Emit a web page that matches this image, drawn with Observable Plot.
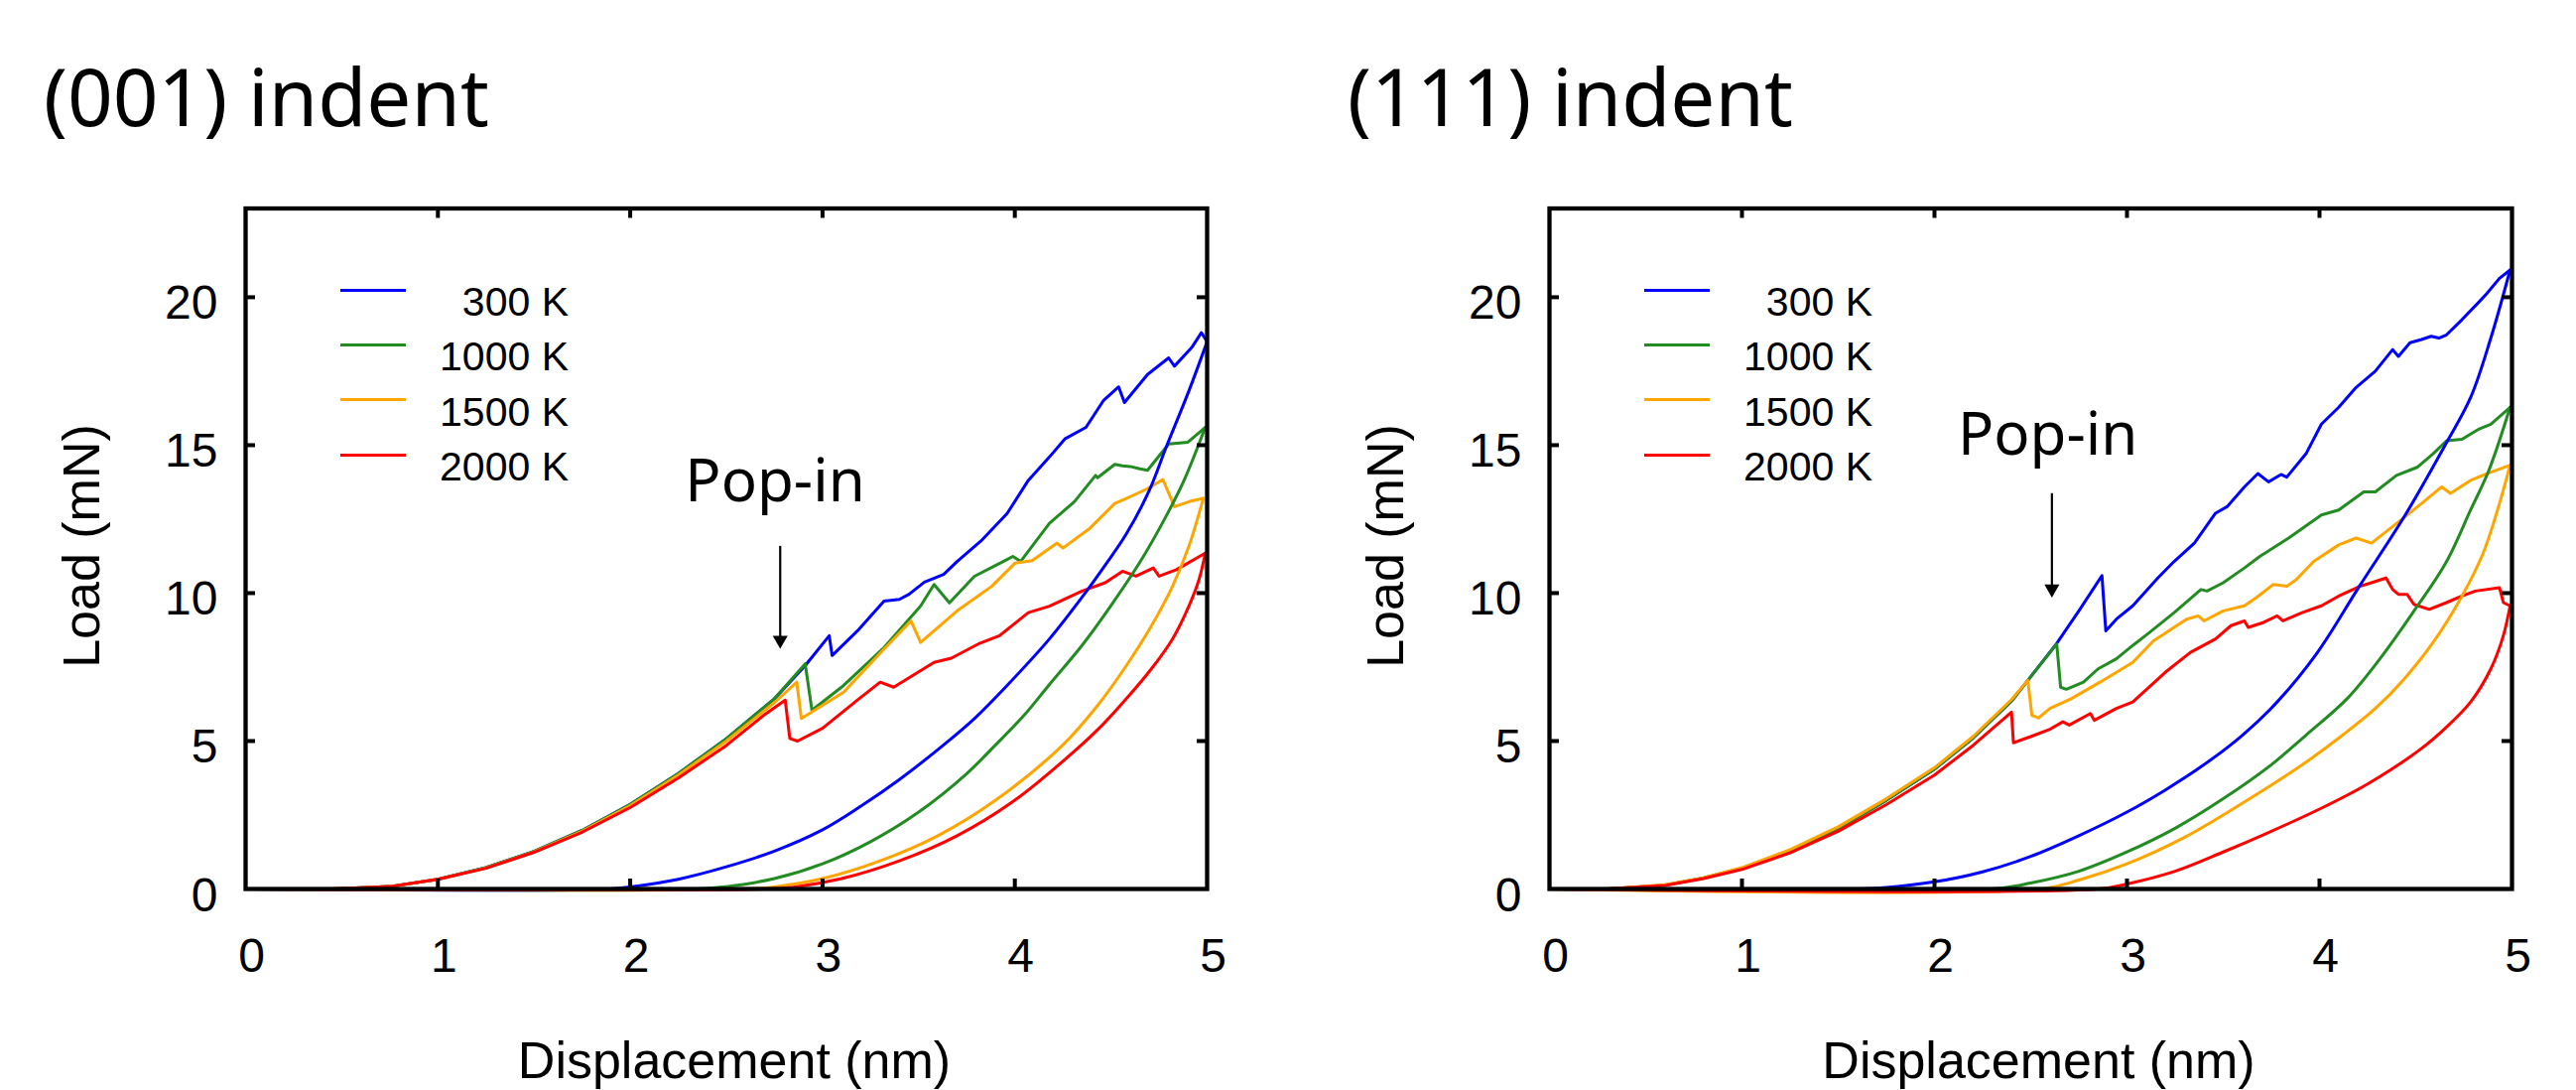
<!DOCTYPE html>
<html>
<head>
<meta charset="utf-8">
<script src="https://cdn.jsdelivr.net/npm/d3@7"></script>
<script src="https://cdn.jsdelivr.net/npm/@observablehq/plot@0.6"></script>
<style>
  html, body { margin: 0; padding: 0; background: #fff; }
  #page { position: relative; width: 2596px; height: 1098px; overflow: hidden; background: #fff; }
  .title { position: absolute; top: 56px; font-family: "Noto Sans", sans-serif; font-size: 80px; line-height: 80px; color: #000; white-space: nowrap; }
  .panel { position: absolute; top: 160px; }
  .lg-line { position: absolute; height: 3px; width: 66px; }
  .lg-text { position: absolute; width: 200px; text-align: right; font-family: "Liberation Sans", Arial, sans-serif; font-size: 41px; line-height: 41px; color: #000; white-space: pre; }
  .ylabel { position: absolute; font-family: "Liberation Sans", Arial, sans-serif; font-size: 52px; line-height: 52px; color: #000; white-space: nowrap; transform: translate(-50%, -50%) rotate(-90deg); }
</style>
</head>
<body>
<div id="page"></div>
<script>
// ---------- labels / categories ----------
const temps = ["300 K", "1000 K", "1500 K", "2000 K"];
const legendLabels = [" 300 K", "1000 K", "1500 K", "2000 K"];
const colors = ["#0000ff", "#228b22", "#ffa500", "#ff0000"];
const panelTitles = ["(001) indent", "(111) indent"];
const xLabel = "Displacement (nm)";
const yLabel = "Load (mN)";
const popinText = "Pop-in";
const xTickValues = [0, 1, 2, 3, 4, 5];
const yTickValues = [0, 5, 10, 15, 20];
const xInnerTicks = [1, 2, 3, 4];
const yInnerTicks = [5, 10, 15, 20];

// ---------- (001) indent : [displacement nm, load mN] ----------
const load001_300 = [[0,0],[0.45,0],[0.75,0.08],[1.0,0.33],[1.25,0.72],[1.5,1.27],[1.75,1.98],[2.0,2.86],[2.25,3.9],[2.5,5.08],[2.75,6.43],[2.91,7.55],[3.035,8.56],[3.05,7.89],[3.19,8.78],[3.32,9.73],[3.40,9.79],[3.45,9.96],[3.53,10.37],[3.63,10.63],[3.70,11.07],[3.83,11.80],[3.96,12.69],[4.07,13.81],[4.18,14.60],[4.26,15.21],[4.37,15.60],[4.46,16.50],[4.54,16.97],[4.57,16.44],[4.69,17.39],[4.80,17.95],[4.83,17.67],[4.92,18.3],[4.97,18.8],[5.0,18.5]];
const unload001_300 = [[5.0,18.5],[4.905,16.83],[4.787,14.93],[4.70,13.48],[4.58,12.0],[4.476,11.0],[4.36,9.95],[4.18,8.45],[3.96,6.88],[3.79,5.76],[3.63,4.87],[3.4,3.7],[3.2,2.8],[3.0,2.0],[2.75,1.28],[2.5,0.75],[2.25,0.33],[2.0,0.07],[1.9,0],[0,0]];
const load001_1000 = [[0,0],[0.45,0],[0.75,0.08],[1.0,0.33],[1.25,0.72],[1.5,1.27],[1.75,1.98],[2.0,2.86],[2.25,3.9],[2.5,5.08],[2.75,6.43],[2.91,7.61],[2.945,6.04],[3.11,6.88],[3.32,8.16],[3.51,9.56],[3.58,10.29],[3.66,9.67],[3.79,10.57],[3.94,11.07],[3.99,11.24],[4.03,11.07],[4.18,12.36],[4.31,13.09],[4.42,13.98],[4.43,13.9],[4.52,14.35],[4.56,14.3],[4.6,14.28],[4.65,14.2],[4.69,14.15],[4.80,15.04],[4.90,15.10],[4.99,15.6]];
const unload001_1000 = [[4.99,15.6],[4.88,13.81],[4.776,12.47],[4.648,11.02],[4.498,9.56],[4.348,8.22],[4.176,6.88],[4.048,5.87],[3.90,4.87],[3.75,3.9],[3.5,2.6],[3.25,1.6],[3.0,0.85],[2.75,0.35],[2.5,0.08],[2.35,0],[0,0]];
const load001_1500 = [[0,0],[0.45,0],[0.75,0.08],[1.0,0.33],[1.25,0.71],[1.5,1.25],[1.75,1.95],[2.0,2.82],[2.25,3.85],[2.5,5.0],[2.75,6.3],[2.866,6.99],[2.89,5.76],[3.11,6.65],[3.32,8.11],[3.46,9.06],[3.51,8.33],[3.70,9.40],[3.88,10.23],[4.00,11.01],[4.09,11.1],[4.22,11.69],[4.25,11.52],[4.39,12.19],[4.52,13.03],[4.58,13.2],[4.69,13.53],[4.77,13.84],[4.83,12.92],[4.91,13.1],[4.98,13.2]];
const unload001_1500 = [[4.98,13.2],[4.905,11.58],[4.82,10.23],[4.71,8.89],[4.58,7.55],[4.43,6.2],[4.25,4.87],[3.9,3.0],[3.6,1.8],[3.3,0.95],[3.0,0.35],[2.75,0.07],[2.6,0],[0,0]];
const load001_2000 = [[0,0],[0.45,0],[0.75,0.08],[1.0,0.33],[1.25,0.7],[1.5,1.24],[1.75,1.92],[2.0,2.75],[2.25,3.75],[2.5,4.85],[2.7,5.9],[2.806,6.38],[2.83,5.09],[2.87,5.0],[3.0,5.43],[3.19,6.43],[3.30,6.99],[3.37,6.82],[3.58,7.66],[3.67,7.8],[3.81,8.28],[3.92,8.56],[4.07,9.34],[4.18,9.56],[4.35,10.07],[4.47,10.35],[4.56,10.74],[4.63,10.57],[4.72,10.85],[4.75,10.57],[4.84,10.79],[4.99,11.35]];
const unload001_2000 = [[4.99,11.35],[4.958,10.46],[4.905,9.56],[4.82,8.45],[4.71,7.44],[4.58,6.43],[4.455,5.54],[4.3,4.6],[4.0,3.0],[3.7,1.8],[3.4,0.95],[3.1,0.35],[2.85,0.06],[2.7,0],[0,0]];

// ---------- (111) indent ----------
const load111_300 = [[0,0],[0.3,0],[0.6,0.13],[0.8,0.37],[1.0,0.7],[1.25,1.3],[1.5,2.05],[1.75,3.0],[2.0,4.05],[2.2,5.1],[2.4,6.35],[2.485,7.05],[2.635,8.3],[2.75,9.4],[2.87,10.59],[2.89,8.72],[2.945,9.12],[3.03,9.57],[3.16,10.51],[3.245,11.07],[3.35,11.69],[3.46,12.70],[3.52,12.92],[3.61,13.59],[3.68,14.04],[3.735,13.76],[3.80,14.01],[3.83,13.92],[3.93,14.71],[4.01,15.71],[4.10,16.28],[4.19,16.95],[4.29,17.5],[4.38,18.23],[4.41,18.0],[4.47,18.46],[4.53,18.57],[4.58,18.68],[4.62,18.62],[4.66,18.73],[4.74,19.24],[4.83,19.85],[4.87,20.13],[4.935,20.64],[4.99,20.92]];
const unload111_300 = [[4.99,20.92],[4.89,18.62],[4.785,16.61],[4.656,15.04],[4.44,12.58],[4.207,10.23],[3.99,8.0],[3.78,6.32],[3.6,5.2],[3.4,4.2],[3.2,3.35],[3.0,2.6],[2.75,1.8],[2.5,1.1],[2.25,0.58],[2.0,0.24],[1.75,0.05],[1.6,0],[0,0]];
const load111_1000 = [[0,0],[0.3,0],[0.6,0.13],[0.8,0.37],[1.0,0.7],[1.25,1.3],[1.5,2.05],[1.75,3.0],[2.0,4.05],[2.2,5.1],[2.4,6.35],[2.485,7.05],[2.635,8.28],[2.655,6.82],[2.685,6.75],[2.774,6.99],[2.85,7.44],[2.945,7.78],[3.03,8.23],[3.117,8.67],[3.245,9.34],[3.384,10.12],[3.416,10.07],[3.50,10.35],[3.61,10.85],[3.69,11.24],[3.84,11.86],[4.01,12.64],[4.10,12.81],[4.23,13.42],[4.29,13.42],[4.40,13.98],[4.51,14.26],[4.59,14.71],[4.66,15.15],[4.74,15.2],[4.83,15.55],[4.89,15.71],[4.99,16.28]];
const unload111_1000 = [[4.99,16.28],[4.88,14.15],[4.785,12.81],[4.656,11.02],[4.485,9.34],[4.314,7.78],[4.143,6.43],[3.93,5.2],[3.75,4.2],[3.5,3.05],[3.25,2.05],[3.0,1.25],[2.75,0.6],[2.5,0.2],[2.3,0],[0,0]];
const load111_1500 = [[0,0],[0.3,0],[0.6,0.14],[0.8,0.38],[1.0,0.72],[1.25,1.33],[1.5,2.1],[1.75,3.05],[2.0,4.1],[2.2,5.15],[2.4,6.4],[2.485,7.05],[2.506,5.87],[2.54,5.78],[2.60,6.1],[2.71,6.43],[2.86,6.99],[3.03,7.66],[3.138,8.39],[3.31,9.12],[3.37,9.23],[3.40,9.06],[3.50,9.40],[3.61,9.57],[3.67,9.84],[3.76,10.29],[3.83,10.23],[3.88,10.46],[3.97,11.07],[4.10,11.63],[4.19,11.86],[4.27,11.69],[4.38,12.25],[4.51,12.92],[4.635,13.59],[4.68,13.37],[4.785,13.81],[4.87,14.04],[4.99,14.32]];
const unload111_1500 = [[4.99,14.32],[4.935,13.03],[4.85,11.35],[4.74,9.9],[4.59,8.33],[4.44,7.1],[4.29,6.1],[4.12,5.2],[3.9,4.15],[3.6,2.9],[3.3,1.75],[3.0,0.85],[2.75,0.3],[2.55,0],[0,0]];
const load111_2000 = [[0,0],[0.3,0],[0.6,0.12],[0.8,0.35],[1.0,0.66],[1.25,1.22],[1.5,1.95],[1.75,2.85],[2.0,3.85],[2.2,4.85],[2.40,5.98],[2.41,4.94],[2.5,5.15],[2.6,5.4],[2.667,5.65],[2.70,5.54],[2.81,5.93],[2.83,5.7],[2.945,6.1],[3.03,6.32],[3.20,7.33],[3.33,8.0],[3.46,8.45],[3.54,8.90],[3.61,9.06],[3.63,8.84],[3.71,9.01],[3.78,9.23],[3.81,9.06],[3.91,9.34],[4.01,9.57],[4.10,9.90],[4.21,10.23],[4.27,10.35],[4.346,10.51],[4.38,10.12],[4.41,9.96],[4.455,9.96],[4.49,9.62],[4.57,9.45],[4.66,9.68],[4.74,9.9],[4.81,10.07],[4.935,10.18],[4.955,9.68],[4.99,9.57]];
const unload111_2000 = [[4.99,9.57],[4.955,8.56],[4.89,7.44],[4.785,6.32],[4.656,5.45],[4.52,4.7],[4.25,3.55],[4.0,2.7],[3.75,1.95],[3.5,1.25],[3.25,0.6],[3.0,0.17],[2.85,0],[0,0]];

// ---------- annotation anchors (data units) ----------
const popinX = [2.753, 2.588];
const popinY = [13.09, 14.67];
const arrowX = [2.78, 2.61];
const arrowTop = [11.58, 13.36];
const arrowTip = [8.12, 9.85];

const loads = [[load001_300, load001_1000, load001_1500, load001_2000], [load111_300, load111_1000, load111_1500, load111_2000]];
const unloads = [[unload001_300, unload001_1000, unload001_1500, unload001_2000], [unload111_300, unload111_1000, unload111_1500, unload111_2000]];

function rows(seriesList) {
  const out = [];
  seriesList.forEach((s, i) => s.forEach(([d, L]) => out.push({temp: temps[i], d, L})));
  return out;
}

const page = document.getElementById("page");
const W = 1298, H = 938, MT = 49.5, MB = 203;
const layouts = [
  {left: 0, ml: 247, mr: 82, titleLeft: 44, ylabX: 82},
  {left: 1298, ml: 263, mr: 65, titleLeft: 1358, ylabX: 1396}
];

layouts.forEach((lay, p) => {
  const frameW = W - lay.ml - lay.mr;
  const frameH = H - MT - MB;
  const svg = Plot.plot({
    width: W, height: H,
    marginLeft: lay.ml, marginRight: lay.mr, marginTop: MT, marginBottom: MB,
    x: {domain: [0, 5], axis: null},
    y: {domain: [0, 23], axis: null},
    color: {domain: temps, range: colors},
    style: {background: "transparent", overflow: "visible"},
    marks: [
      Plot.line(rows(loads[p]), {x: "d", y: "L", z: "temp", stroke: "temp", strokeWidth: 3, strokeLinejoin: "round"}),
      Plot.line(rows(unloads[p]), {x: "d", y: "L", z: "temp", stroke: "temp", strokeWidth: 3, curve: "catmull-rom"}),
      Plot.frame({stroke: "black", strokeWidth: 4.3}),
      Plot.tickX(xInnerTicks, {x: d => d, stroke: "black", strokeWidth: 4, insetTop: frameH - 10}),
      Plot.tickX(xInnerTicks, {x: d => d, stroke: "black", strokeWidth: 4, insetBottom: frameH - 10}),
      Plot.tickY(yInnerTicks, {y: d => d, stroke: "black", strokeWidth: 4, insetRight: frameW - 10}),
      Plot.tickY(yInnerTicks, {y: d => d, stroke: "black", strokeWidth: 4, insetLeft: frameW - 10}),
      Plot.text(xTickValues, {x: d => d, text: d => String(d), frameAnchor: "bottom", lineAnchor: "bottom", dy: 83, dx: 6, fontSize: 48, fontFamily: "Liberation Sans, Arial, sans-serif", fill: "black"}),
      Plot.text(yTickValues, {y: d => d, text: d => String(d), frameAnchor: "left", textAnchor: "end", lineAnchor: "bottom", dx: -28, dy: 22, fontSize: 48, fontFamily: "Liberation Sans, Arial, sans-serif", fill: "black"}),
      Plot.text([xLabel], {text: d => d, frameAnchor: "bottom", lineAnchor: "bottom", dy: 190, dx: 8, fontSize: 52, fontFamily: "Liberation Sans, Arial, sans-serif", fill: "black"}),
      Plot.text([popinText], {x: () => popinX[p], y: () => popinY[p], text: d => d, lineAnchor: "bottom", fontSize: 60, fontFamily: "Noto Sans, sans-serif", fill: "black"}),
      Plot.ruleX([arrowX[p]], {x: d => d, y1: () => arrowTop[p], y2: () => arrowTip[p] + 0.4, stroke: "black", strokeWidth: 2.2}),
      Plot.dot([arrowX[p]], {x: d => d, y: () => arrowTip[p], symbol: "triangle", r: 5.6, rotate: 180, dy: -8.7, fill: "black", stroke: "none"})
    ]
  });
  svg.classList.add("panel");
  svg.style.left = lay.left + "px";
  page.appendChild(svg);

  const t = document.createElement("div");
  t.className = "title";
  t.style.left = lay.titleLeft + "px";
  t.textContent = panelTitles[p];
  page.appendChild(t);

  const yl = document.createElement("div");
  yl.className = "ylabel";
  yl.style.left = lay.ylabX + "px";
  yl.style.top = "550px";
  yl.textContent = yLabel;
  page.appendChild(yl);

  const frameLeft = lay.left + lay.ml;
  const rowY = [292, 347.3, 402.6, 458];
  temps.forEach((tp, i) => {
    const ln = document.createElement("div");
    ln.className = "lg-line";
    ln.style.left = (frameLeft + 96) + "px";
    ln.style.top = (rowY[i] - 1.5) + "px";
    ln.style.background = colors[i];
    page.appendChild(ln);
    const tx = document.createElement("div");
    tx.className = "lg-text";
    tx.style.left = (frameLeft + 326 - 200) + "px";
    tx.style.top = (rowY[i] - 8) + "px";
    tx.textContent = legendLabels[i];
    page.appendChild(tx);
  });
});
</script>
</body>
</html>
